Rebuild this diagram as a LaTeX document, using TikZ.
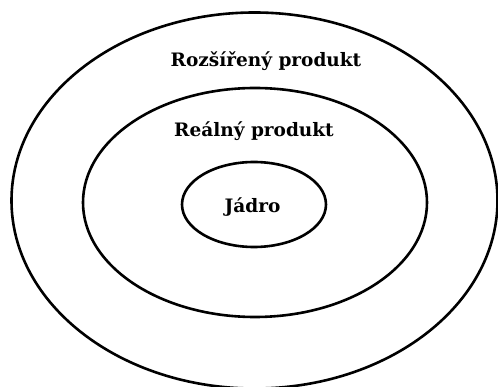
\documentclass[tikz,border=0pt]{standalone}
\usepackage{fontspec}
\setmainfont{DejaVu Serif}
\usetikzlibrary{shapes.geometric}
\begin{document}
\begin{tikzpicture}[x=1pt,y=-1pt,
  ring/.style={draw=black,line width=2.6pt},
  lbl/.style={font=\bfseries\fontsize{18.5}{22}\selectfont,inner sep=0pt,anchor=base}]
\useasboundingbox (0,0) rectangle (498,387);
\draw[ring] (254.5,200.5) ellipse [x radius=243, y radius=188];
\draw[ring] (255,202.5) ellipse [x radius=172, y radius=114.5];
\draw[ring] (254,204.5) ellipse [x radius=72, y radius=42.5];
\node[lbl] (outer) at (266,67) {Rozšířený produkt};
\node[lbl] (middle) at (254,137) {Reálný produkt};
\node[lbl] (core) at (252.5,213) {Jádro};
\end{tikzpicture}
\end{document}
